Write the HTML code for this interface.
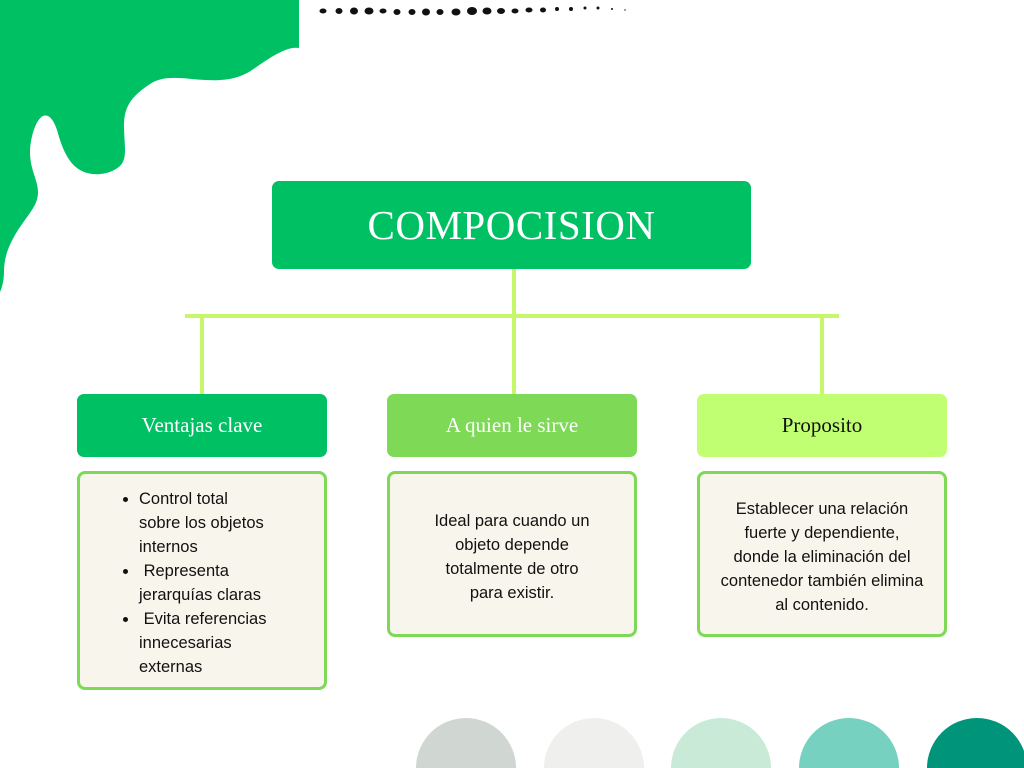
<!DOCTYPE html>
<html><head><meta charset="utf-8">
<style>
html,body{margin:0;padding:0;width:1024px;height:768px;overflow:hidden;}
body{position:relative;background:#fff;font-family:"Liberation Sans","DejaVu Sans",sans-serif;}
.a{position:absolute;box-sizing:border-box;}
.hd{border-radius:7px;display:flex;align-items:center;justify-content:center;font-family:"Liberation Serif",serif;font-size:21px;}
.bx{background:#f8f5ec;border:3px solid #7ed957;border-radius:8px;font-size:16.5px;line-height:24px;color:#111;}
.ln{position:absolute;background:#c6f76a;}
</style></head><body>
<svg class="a" style="left:0;top:0" width="1024" height="300">
<path fill="#00c064" d="M0,0 L299,0 L299,48 C288,46 272,56 255,68 C240,79 225,81 205,80 C185,79 165,74 150,84 C132,96 124,106 124,125 C124,145 128,158 120,166 C110,175 92,177 80,170 C68,163 62,148 57,130 C53,118 48,114 43,116 C35,120 30,140 30,152 C30,170 38,180 38,192 C38,205 30,212 18,230 C8,246 4,258 4,272 C4,280 2,288 0,292 Z"/>
<g fill="#111">
<ellipse cx="323" cy="11" rx="3.5" ry="2.5"/><ellipse cx="339" cy="11" rx="3.5" ry="3"/><ellipse cx="354" cy="11" rx="4" ry="3.5"/><ellipse cx="369" cy="11" rx="4.5" ry="3.5"/><ellipse cx="383" cy="11" rx="3.5" ry="2.5"/><ellipse cx="397" cy="12" rx="3.5" ry="3"/><ellipse cx="412" cy="12" rx="3.5" ry="3"/><ellipse cx="426" cy="12" rx="4" ry="3.5"/><ellipse cx="440" cy="12" rx="3.5" ry="3"/><ellipse cx="456" cy="12" rx="4.5" ry="3.5"/><ellipse cx="472" cy="11" rx="5" ry="4"/><ellipse cx="487" cy="11" rx="4.5" ry="3.5"/><ellipse cx="501" cy="11" rx="4" ry="3"/><ellipse cx="515" cy="11" rx="3.5" ry="2.5"/><ellipse cx="529" cy="10" rx="3.5" ry="2.5"/><ellipse cx="543" cy="10" rx="3" ry="2.5"/><ellipse cx="557" cy="9" rx="2" ry="2"/><ellipse cx="571" cy="9" rx="2" ry="2"/><ellipse cx="585" cy="8" rx="1.5" ry="1.5"/><ellipse cx="598" cy="8" rx="1.5" ry="1.5"/><ellipse cx="612" cy="9" rx="1" ry="1"/><ellipse cx="625" cy="10" rx="0.7" ry="0.7"/>
</g>
</svg>
<div class="a hd" style="left:272px;top:181px;width:479px;height:88px;background:#00c064;color:#fff;font-size:41px;letter-spacing:0.5px;">COMPOCISION</div>
<div class="ln" style="left:512px;top:269px;width:4px;height:125px;"></div>
<div class="ln" style="left:185px;top:314px;width:654px;height:4px;"></div>
<div class="ln" style="left:200px;top:316px;width:4px;height:78px;"></div>
<div class="ln" style="left:820px;top:316px;width:4px;height:78px;"></div>
<div class="a hd" style="left:77px;top:394px;width:250px;height:63px;background:#00c064;color:#fff;">Ventajas clave</div>
<div class="a hd" style="left:387px;top:394px;width:250px;height:63px;background:#7ed957;color:#fff;">A quien le sirve</div>
<div class="a hd" style="left:697px;top:394px;width:250px;height:63px;background:#c1ff72;color:#111;">Proposito</div>
<div class="a bx" style="left:77px;top:471px;width:250px;height:219px;">
<ul style="margin:0;padding:13px 0 0 59px;list-style:disc;">
<li>Control total<br>sobre los objetos<br>internos</li>
<li>&nbsp;Representa<br>jerarquías claras</li>
<li>&nbsp;Evita referencias<br>innecesarias<br>externas</li>
</ul></div>
<div class="a bx" style="left:387px;top:471px;width:250px;height:166px;text-align:center;padding-top:35px;">Ideal para cuando un<br>objeto depende<br>totalmente de otro<br>para existir.</div>
<div class="a bx" style="left:697px;top:471px;width:250px;height:166px;text-align:center;padding-top:23px;">Establecer una relación<br>fuerte y dependiente,<br>donde la eliminación del<br>contenedor también elimina<br>al contenido.</div>
<svg class="a" style="left:0;top:718px" width="1024" height="50">
<circle cx="466" cy="50" r="50" fill="#d0d7d3"/>
<circle cx="594" cy="50" r="50" fill="#efefed"/>
<circle cx="721" cy="50" r="50" fill="#c8ead7"/>
<circle cx="849" cy="50" r="50" fill="#76d1c0"/>
<circle cx="977" cy="50" r="50" fill="#00957a"/>
</svg>
</body></html>
